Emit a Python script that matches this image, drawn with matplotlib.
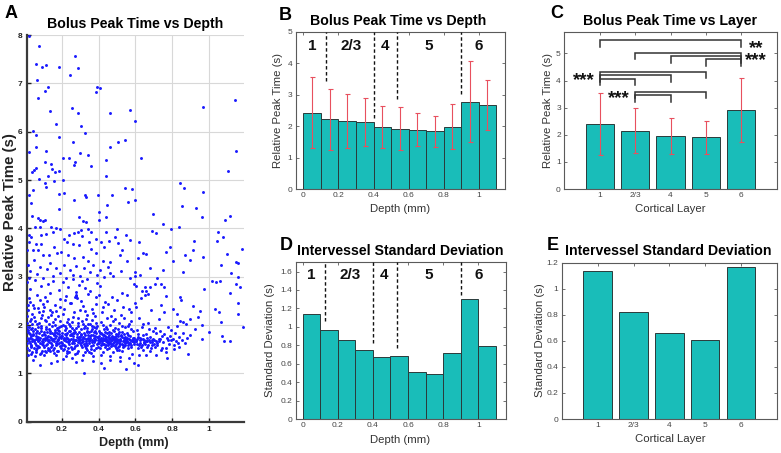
import numpy as np
import matplotlib
matplotlib.use('Agg')
import matplotlib.pyplot as plt

plt.rcParams['font.family'] = ['Liberation Sans', 'DejaVu Sans']

# ---------------- Panel A data (depth mm, relative peak time s) ----------------
pts_upper = [
(0.02,7.97),(0.078,7.77),(0.06,7.39),(0.093,7.34),(0.115,7.38),(0.184,7.34),(0.27,7.57),(0.245,7.17),(0.287,7.31),
(0.064,7.06),(0.127,6.92),(0.11,6.84),(0.073,6.70),(0.39,6.93),(0.41,6.90),(0.387,6.83),
(0.138,6.43),(0.256,6.48),(0.287,6.39),(0.46,6.39),(0.57,6.45),(0.596,6.22),(0.17,6.16),(0.305,6.12),(0.327,5.97),
(0.042,6.02),(0.06,5.93),(0.184,5.88),(0.264,5.79),(0.46,5.68),(0.505,5.79),(0.545,5.83),(0.02,5.57),(0.058,5.68),
(0.115,5.59),(0.30,5.55),(0.342,5.51),(0.205,5.46),(0.238,5.45),(0.63,5.46),(0.965,6.52),(1.142,6.66),(1.147,5.59),
(0.111,5.38),(0.142,5.34),(0.27,5.38),(0.269,5.31),(0.36,5.28),(0.44,5.41),
(0.039,5.17),(0.05,5.21),(0.062,5.24),(0.147,5.23),(0.165,5.16),(0.184,5.19),(0.078,5.02),(0.124,5.09),(0.16,4.97),
(0.205,5.01),(0.44,5.09),(0.111,4.93),(0.042,4.79),(0.115,4.85),(0.02,4.68),(0.185,4.72),(0.215,4.74),(0.327,4.69),
(0.333,4.64),(0.396,4.69),(0.475,4.70),(0.542,4.83),(0.584,4.81),(0.56,4.55),(0.596,4.59),(0.269,4.59),(0.447,4.48),
(0.033,4.52),(0.184,4.40),(0.842,4.94),(0.865,4.84),(0.965,4.76),(0.927,4.43),(0.853,4.46),(1.102,5.19),(1.115,4.26),
(0.96,4.23),(1.085,4.17),(0.696,4.29),(0.751,4.08),(0.838,4.03),(0.402,4.33),(0.44,4.24),(0.404,4.17),(0.296,4.24),
(0.315,4.15),(0.333,4.14),(0.04,4.26),(0.071,4.22),(0.084,4.17),(0.10,4.15),(0.11,4.17),(0.053,4.03),(0.08,4.02),
(0.142,4.03),(0.169,4.01)]

pts_mid = [
(1.05,3.93),(1.078,3.83),(0.793,3.99),(0.693,3.94),(0.711,3.91),(0.193,3.99),(0.242,3.86),(0.269,3.91),(0.287,3.93),
(0.305,3.97),(0.342,3.99),(0.36,3.93),(0.442,3.92),(0.50,3.99),(0.547,3.86),(0.569,3.76),(0.504,3.69),(0.456,3.74),
(0.411,3.72),(0.387,3.79),(0.351,3.72),(0.296,3.66),(0.26,3.67),(0.229,3.71),(0.151,3.92),(0.115,3.88),(0.087,3.86),
(0.02,3.86),(0.024,3.72),(0.06,3.67),(0.042,3.55),(0.07,3.55),(0.096,3.45),(0.133,3.45),(0.173,3.48),(0.196,3.52),
(0.233,3.45),(0.269,3.38),(0.315,3.41),(0.342,3.32),(0.387,3.48),(0.424,3.32),(0.46,3.31),(0.515,3.45),(0.555,3.32),
(0.615,3.38),(0.64,3.48),(0.66,3.46),(0.769,3.52),(0.787,3.62),(0.805,3.32),(0.869,3.45),(0.915,3.55),(0.918,3.74),
(0.969,3.41),(1.045,3.74),(1.10,3.46),(1.18,3.57),(1.144,3.31),(1.16,3.28),(1.067,3.24),(0.896,3.34),(0.751,3.14),
(0.86,3.09),(0.596,3.10),(0.46,3.07),(0.015,3.24),
(0.03,3.12),(0.05,3.35),(0.065,3.05),(0.08,3.21),(0.10,2.98),(0.12,3.15),(0.135,3.28),(0.155,3.02),(0.17,3.19),
(0.19,3.08),(0.21,3.25),(0.225,2.97),(0.245,3.13),(0.26,3.03),(0.28,3.22),(0.30,3.01),(0.32,3.17),(0.335,2.96),
(0.355,3.09),(0.37,3.24),(0.39,3.04),(0.41,3.14),(0.43,2.99),(0.45,3.21),(0.48,3.02),(0.52,3.12),(0.57,2.98),
(0.625,3.04),(0.68,3.18),(0.72,2.97),(0.012,3.55),(0.035,3.82),(0.09,3.68),(0.16,3.62),(0.21,3.78),(0.31,3.85),
(0.36,3.58),(0.43,3.61),(0.49,3.83),(0.53,3.56),(0.62,3.72),
(1.015,2.92),(1.04,2.88),(1.06,2.92),(1.12,3.07),(1.16,3.0)]

pts_sparse_low = [
(0.975,2.74),(1.03,2.33),(1.056,2.26),(1.115,2.66),(1.147,2.85),(1.16,2.23),(1.17,2.78),(1.155,2.45),
(1.184,1.95),(1.066,2.06),(1.0,1.85),(0.96,2.0),(0.964,1.71),(1.07,1.78),(1.082,1.66),(1.115,1.66),(0.938,2.16),
(0.924,1.92),(0.95,2.30),(0.896,2.12),(0.915,2.40),(0.86,2.06),(0.824,2.23),(0.805,2.33),(0.84,2.57),(0.85,2.52),
(0.769,2.61),(0.756,2.78),(0.742,2.85),(0.705,2.85),(0.66,2.71),(0.669,2.64),(0.651,2.78),(0.605,2.81),(0.596,3.02)]

pts_core = [
(0.012,1.62),(0.015,2.31),(0.018,1.85),(0.021,2.55),(0.013,2.05),(0.025,1.48),(0.028,1.74),(0.031,2.12),(0.034,1.58),
(0.037,1.93),(0.040,1.67),(0.043,2.41),(0.046,1.79),(0.049,1.52),(0.016,1.71),(0.022,1.95),(0.027,2.74),(0.033,1.41),
(0.038,2.23),(0.044,1.88),(0.014,2.88),(0.019,1.37),(0.026,1.63),(0.035,1.77),(0.041,2.02),(0.047,1.69),(0.012,2.18),
(0.024,2.97),(0.030,1.82),(0.036,1.55),(0.042,1.28),(0.048,2.35),(0.017,1.90),(0.029,2.48),(0.039,1.72),
(0.052,1.66),(0.055,2.08),(0.058,1.45),(0.061,1.83),(0.064,2.62),(0.067,1.74),(0.070,1.57),(0.073,1.96),(0.076,2.27),
(0.079,1.69),(0.082,1.41),(0.085,1.88),(0.088,2.15),(0.091,1.61),(0.094,1.79),(0.097,2.44),(0.053,1.92),(0.059,1.71),
(0.065,1.52),(0.071,2.36),(0.077,1.84),(0.083,1.63),(0.089,2.81),(0.095,1.47),(0.056,2.93),(0.062,1.58),(0.068,2.02),
(0.074,1.76),(0.080,1.18),(0.086,1.98),(0.092,2.21),(0.098,1.72),(0.057,1.36),(0.069,1.67),(0.081,2.52),
(0.102,1.81),(0.105,1.55),(0.108,2.11),(0.111,1.73),(0.114,1.44),(0.117,1.92),(0.120,2.49),(0.123,1.66),(0.126,1.78),
(0.129,2.03),(0.132,1.51),(0.135,1.87),(0.138,2.67),(0.141,1.62),(0.144,1.74),(0.147,2.26),(0.103,2.38),(0.109,1.68),
(0.115,1.59),(0.121,1.86),(0.127,2.85),(0.133,1.70),(0.139,1.46),(0.145,1.97),(0.106,1.39),(0.112,2.58),(0.118,1.76),
(0.124,2.17),(0.130,1.64),(0.136,1.83),(0.142,1.21),(0.148,1.58),(0.113,1.95),(0.125,1.49),(0.137,2.32),
(0.152,1.72),(0.155,2.06),(0.158,1.53),(0.161,1.85),(0.164,2.42),(0.167,1.63),(0.170,1.77),(0.173,1.94),(0.176,1.47),
(0.179,2.19),(0.182,1.68),(0.185,2.73),(0.188,1.81),(0.191,1.57),(0.194,1.99),(0.197,1.74),(0.153,2.91),(0.159,1.42),
(0.165,1.89),(0.171,2.28),(0.177,1.61),(0.183,1.75),(0.189,2.54),(0.195,1.52),(0.156,1.66),(0.162,2.12),(0.168,1.38),
(0.174,1.83),(0.180,1.71),(0.186,1.96),(0.192,2.37),(0.198,1.64),(0.160,1.79),(0.172,1.25),(0.184,1.88),
(0.202,1.77),(0.205,1.49),(0.208,2.01),(0.211,1.69),(0.214,2.34),(0.217,1.82),(0.220,1.56),(0.223,1.93),(0.226,2.61),
(0.229,1.73),(0.232,1.64),(0.235,2.13),(0.238,1.87),(0.241,1.45),(0.244,1.79),(0.247,2.46),(0.203,1.62),(0.209,2.22),
(0.215,1.71),(0.221,1.35),(0.227,1.84),(0.233,2.78),(0.239,1.67),(0.245,1.98),(0.206,2.88),(0.212,1.58),(0.218,1.90),
(0.224,1.74),(0.230,2.07),(0.236,1.52),(0.242,1.69),(0.248,1.81),(0.207,1.29),(0.219,2.52),(0.231,1.43),
(0.252,1.72),(0.255,1.94),(0.258,1.51),(0.261,2.17),(0.264,1.78),(0.267,1.63),(0.270,2.58),(0.273,1.86),(0.276,2.63),
(0.279,1.69),(0.282,2.55),(0.285,1.81),(0.288,1.47),(0.291,2.04),(0.294,1.75),(0.297,2.31),(0.253,2.45),(0.259,1.66),
(0.265,1.89),(0.271,1.41),(0.277,2.68),(0.283,1.59),(0.289,1.97),(0.295,1.70),(0.256,1.32),(0.262,1.83),(0.268,2.26),
(0.274,1.57),(0.280,2.60),(0.286,1.73),(0.292,2.83),(0.298,1.62),(0.263,2.95),(0.275,1.24),(0.287,2.14),
(0.302,1.68),(0.305,1.91),(0.308,1.54),(0.311,2.08),(0.314,1.76),(0.317,2.39),(0.320,1.61),(0.323,1.84),(0.326,1.45),
(0.329,1.97),(0.332,1.72),(0.335,2.21),(0.338,1.58),(0.341,1.80),(0.344,2.64),(0.347,1.66),(0.303,2.49),(0.309,1.71),
(0.315,1.38),(0.321,1.93),(0.327,2.76),(0.333,1.63),(0.339,1.85),(0.345,2.03),(0.306,1.79),(0.312,1.27),(0.318,1.67),
(0.324,2.29),(0.330,1.52),(0.336,1.88),(0.342,1.74),(0.348,1.44),(0.310,2.92),(0.322,1.00),(0.334,2.12),
(0.352,1.73),(0.355,2.02),(0.358,1.56),(0.361,1.87),(0.364,2.33),(0.367,1.64),(0.370,1.79),(0.373,1.95),(0.376,1.48),
(0.379,2.18),(0.382,1.70),(0.385,2.57),(0.388,1.83),(0.391,1.61),(0.394,1.99),(0.397,1.75),(0.353,2.71),(0.359,1.43),
(0.365,1.91),(0.371,2.24),(0.377,1.67),(0.383,1.78),(0.389,2.44),(0.395,1.55),(0.356,1.68),(0.362,2.11),(0.368,1.36),
(0.374,1.86),(0.380,1.72),(0.386,1.94),(0.392,2.86),(0.398,1.63),(0.360,1.80),(0.372,1.26),(0.384,2.05),
(0.402,1.71),(0.405,1.88),(0.408,1.53),(0.411,2.06),(0.414,1.74),(0.417,1.62),(0.420,2.27),(0.423,1.79),(0.426,1.45),
(0.429,1.92),(0.432,1.68),(0.435,2.48),(0.438,1.76),(0.441,1.58),(0.444,1.84),(0.447,2.15),(0.403,2.62),(0.409,1.66),
(0.415,1.39),(0.421,1.81),(0.427,2.37),(0.433,1.72),(0.439,1.95),(0.445,1.64),(0.406,1.83),(0.412,1.21),(0.418,1.70),
(0.424,2.01),(0.430,1.11),(0.436,1.77),(0.442,1.69),(0.448,1.51),(0.410,2.81),(0.422,1.60),(0.434,1.86),
(0.452,1.67),(0.455,1.85),(0.458,1.52),(0.461,2.01),(0.464,1.73),(0.467,1.60),(0.470,2.19),(0.473,1.78),(0.476,1.44),
(0.479,1.89),(0.482,1.65),(0.485,2.32),(0.488,1.74),(0.491,1.56),(0.494,1.82),(0.497,1.69),(0.453,2.44),(0.459,1.63),
(0.465,1.36),(0.471,1.76),(0.477,2.09),(0.483,1.71),(0.489,1.93),(0.495,1.61),(0.456,1.80),(0.462,1.27),(0.468,1.68),
(0.474,2.58),(0.480,1.58),(0.486,1.75),(0.492,2.12),(0.498,1.48),
(0.502,1.72),(0.505,1.91),(0.508,1.55),(0.511,2.04),(0.514,1.68),(0.517,1.61),(0.520,2.21),(0.523,1.77),(0.526,1.46),
(0.529,1.85),(0.532,1.66),(0.535,2.38),(0.538,1.73),(0.541,1.57),(0.544,1.96),(0.547,1.70),(0.503,2.52),(0.509,1.63),
(0.515,1.33),(0.521,1.79),(0.527,1.99),(0.533,1.59),(0.539,2.14),(0.545,1.64),(0.506,1.82),(0.518,1.26),(0.530,2.67),
(0.542,1.75),(0.512,1.49),(0.548,1.08),
(0.552,1.66),(0.556,1.84),(0.560,1.52),(0.564,2.02),(0.568,1.71),(0.572,1.63),(0.576,2.26),(0.580,1.69),(0.584,1.41),
(0.588,1.87),(0.592,1.65),(0.596,2.45),(0.554,1.74),(0.558,1.97),(0.562,1.58),(0.566,2.33),(0.570,1.78),(0.574,1.55),
(0.578,2.08),(0.582,1.67),(0.586,1.74),(0.590,2.84),(0.594,1.60),(0.598,1.70),(0.563,1.31),(0.579,1.92),(0.591,1.21),
(0.557,2.62),
(0.602,1.67),(0.607,1.89),(0.612,1.53),(0.617,1.76),(0.622,2.14),(0.627,1.62),(0.632,1.71),(0.637,1.95),(0.642,1.49),
(0.647,1.68),(0.604,2.37),(0.609,1.61),(0.614,1.82),(0.619,1.38),(0.624,1.73),(0.629,2.56),(0.634,1.58),(0.639,1.79),
(0.644,2.02),(0.649,1.64),(0.616,1.18),(0.636,2.71),
(0.652,1.61),(0.657,1.82),(0.662,1.55),(0.667,2.05),(0.672,1.70),(0.677,1.47),(0.682,1.76),(0.687,2.31),(0.692,1.64),
(0.697,1.88),(0.655,2.62),(0.665,1.66),(0.675,1.91),(0.685,1.52),(0.695,1.72),(0.660,1.39),(0.680,2.78),(0.690,1.58),
(0.702,1.69),(0.708,1.55),(0.714,1.83),(0.720,1.63),(0.726,2.12),(0.732,1.71),(0.738,1.49),(0.744,1.77),(0.705,1.94),
(0.717,1.58),(0.729,1.66),(0.741,2.41),(0.711,1.38),(0.735,1.87),(0.747,1.52),
(0.752,1.64),(0.758,1.81),(0.764,1.52),(0.770,1.73),(0.776,1.96),(0.782,1.60),(0.788,1.77),(0.794,1.68),(0.755,2.27),
(0.767,1.45),(0.779,1.69),(0.791,1.89),(0.773,1.32),
(0.803,1.72),(0.809,1.58),(0.815,1.84),(0.821,1.67),(0.827,1.98),(0.833,1.63),(0.839,1.76),(0.845,2.09),(0.812,1.51),
(0.836,1.55),
(0.853,1.69),(0.860,1.83),(0.867,1.62),(0.874,2.02),(0.881,1.74),(0.888,1.41),(0.895,1.79)]

pts_core_dense = [
(0.011,1.74),(0.014,1.52),(0.017,2.41),(0.020,1.66),(0.023,1.83),(0.026,2.08),(0.032,1.57),(0.036,1.91),(0.039,1.44),
(0.045,1.81),(0.050,2.17),(0.054,1.62),(0.060,1.77),(0.063,1.49),(0.066,1.88),(0.072,1.69),(0.075,2.04),(0.078,1.55),
(0.084,1.73),(0.087,1.43),(0.090,1.93),(0.093,1.67),(0.096,2.29),(0.099,1.59),(0.010,1.96),
(0.101,1.64),(0.104,1.86),(0.107,1.47),(0.110,1.79),(0.116,2.09),(0.119,1.61),(0.122,1.72),(0.128,1.53),(0.131,1.91),
(0.134,1.76),(0.140,2.21),(0.143,1.55),(0.146,1.84),(0.150,1.69),(0.154,1.49),(0.157,1.81),(0.163,1.73),(0.166,2.01),
(0.169,1.58),(0.175,1.67),(0.178,1.89),(0.181,1.46),(0.187,1.63),(0.190,2.09),(0.196,1.78),
(0.201,1.59),(0.204,1.84),(0.210,1.74),(0.213,1.51),(0.216,1.97),(0.222,1.66),(0.225,1.79),(0.228,1.47),(0.234,1.72),
(0.237,2.02),(0.240,1.61),(0.246,1.88),(0.249,1.54),(0.251,1.79),(0.254,1.63),(0.257,2.07),(0.260,1.71),(0.266,1.52),
(0.269,1.83),(0.272,1.68),(0.278,1.94),(0.281,1.76),(0.284,1.43),(0.290,1.65),(0.296,1.86),
(0.301,1.75),(0.304,1.58),(0.307,1.82),(0.313,1.64),(0.316,2.03),(0.319,1.73),(0.325,1.56),(0.328,1.79),(0.331,1.67),
(0.337,1.94),(0.340,1.49),(0.343,1.71),(0.346,1.85),(0.350,1.62),(0.354,1.78),(0.357,1.51),(0.363,1.69),(0.366,1.97),
(0.369,1.59),(0.375,1.74),(0.378,1.65),(0.381,1.87),(0.387,1.53),(0.390,1.76),(0.396,1.68),
(0.401,1.63),(0.404,1.77),(0.407,1.69),(0.413,1.58),(0.416,1.84),(0.419,1.66),(0.425,1.73),(0.428,1.61),(0.431,1.79),
(0.437,1.55),(0.440,1.71),(0.443,1.67),(0.446,1.92),(0.449,1.62),(0.451,1.75),(0.454,1.59),(0.457,1.72),(0.463,1.65),
(0.466,1.83),(0.469,1.57),(0.472,1.69),(0.478,1.74),(0.481,1.63),(0.484,1.88),(0.487,1.66),(0.490,1.71),(0.493,1.53),
(0.496,1.77),
(0.501,1.64),(0.504,1.78),(0.507,1.69),(0.510,1.57),(0.513,1.86),(0.516,1.66),(0.519,1.72),(0.525,1.61),(0.528,1.75),
(0.531,1.54),(0.537,1.68),(0.540,1.81),(0.543,1.63),(0.546,1.59),(0.551,1.71),(0.555,1.64),(0.559,1.79),(0.567,1.62),
(0.571,1.69),(0.577,1.58),(0.585,1.66),(0.593,1.73),
(0.606,1.66),(0.611,1.72),(0.621,1.59),(0.626,1.68),(0.631,1.55),(0.641,1.71),(0.646,1.62),(0.656,1.67),(0.664,1.74),
(0.671,1.59),(0.679,1.64),(0.689,1.69),(0.699,1.61),(0.712,1.66),(0.727,1.72)]

# ---------------- Panels B / D data (depth bins) ----------------
bin_depth = [0.05, 0.15, 0.25, 0.35, 0.45, 0.55, 0.65, 0.75, 0.85, 0.95, 1.05]
bin_mean = [2.43, 2.21, 2.17, 2.13, 1.97, 1.92, 1.89, 1.83, 1.98, 2.78, 2.66]
bin_std = [1.14, 0.97, 0.86, 0.75, 0.67, 0.68, 0.51, 0.49, 0.72, 1.30, 0.79]
layer_bounds = [0.13, 0.40, 0.535, 0.90]
bound_low_B = [3.43, 2.26, 2.85, 3.03]
bound_low_D = [1.06, 0.82, 0.77, 1.35]
layer_names = ['1', '2/3', '4', '5', '6']
layer_label_x = [0.05, 0.27, 0.465, 0.715, 1.0]

# ---------------- Panels C / E data (layers) ----------------
layer_mean = [2.41, 2.15, 1.95, 1.90, 2.91]
layer_std = [1.14, 0.82, 0.66, 0.61, 1.17]
# significance brackets: (from layer index, to layer index, height)
brackets = [(0, 4, 5.49), (1, 4, 5.02), (2, 4, 4.90), (3, 4, 4.78),
            (0, 3, 4.32), (0, 2, 4.20), (0, 1, 4.07), (1, 3, 3.58), (1, 2, 3.46)]
star_text = ['**\n***', '***', '***']
star_pos = [(5.42, 4.97), (0.56, 3.99), (1.53, 3.34)]

# ---------------- Figure ----------------
W, H = 781, 453
fig = plt.figure(figsize=(W / 100, H / 100), dpi=100)

def px_axes(l, t, r, b):
    return fig.add_axes([l / W, 1 - b / H, (r - l) / W, (b - t) / H])

def ftext(x, y, s, **kw):
    fig.text(x / W, 1 - y / H, s, **kw)

TEAL = '#19bdb9'
EDGE = '#2b3a3a'
ERR = '#e8505e'
SPINE = '#5a5a5a'
TICKC = '#454545'
LABC = '#333333'

# ---- Panel A ----
axA = px_axes(26.7, 35, 244, 421.7)
allpts = np.array(pts_upper + pts_mid + pts_sparse_low + pts_core + pts_core_dense)
axA.scatter(allpts[:, 0], allpts[:, 1], s=4.5, c='#1a1aff', linewidths=0, zorder=3)
axA.set_xlim(0.01, 1.19)
axA.set_ylim(0, 8)
axA.set_xticks([0.2, 0.4, 0.6, 0.8, 1.0])
axA.set_xticklabels(['0.2', '0.4', '0.6', '0.8', '1'])
axA.set_yticks(range(0, 9))
axA.set_yticklabels([str(v) for v in range(0, 9)])
axA.grid(True, color='#d8d8d8', lw=0.8)
axA.set_axisbelow(True)
for s in ['top', 'right']:
    axA.spines[s].set_visible(False)
for s in ['left', 'bottom']:
    axA.spines[s].set_color('#3a3a3a')
    axA.spines[s].set_linewidth(1.6)
axA.tick_params(axis='both', direction='in', length=3, width=1, labelsize=6, pad=3, colors='#222222')
for lab in axA.get_xticklabels() + axA.get_yticklabels():
    lab.set_fontweight('bold')
ftext(10.5, 212, 'Relative Peak Time (s)', rotation=90, ha='center', va='center', fontsize=10.8, fontweight='bold', color='#222222')
ftext(134, 443, 'Depth (mm)', ha='center', va='center', fontsize=9, fontweight='bold', color='#222222')
ftext(135, 24, 'Bolus Peak Time vs Depth', ha='center', va='center', fontsize=10.2, fontweight='bold')
ftext(11, 14, 'A', ha='center', va='center', fontsize=13, fontweight='bold')

def style_box(ax):
    for s in ax.spines.values():
        s.set_color(SPINE)
        s.set_linewidth(0.8)
    ax.tick_params(axis='both', direction='in', length=2.5, width=0.6, labelsize=6,
                   colors=SPINE, labelcolor=TICKC, pad=2.5, top=True, right=True)

# ---- Panel B ----
axB = px_axes(295.5, 31.7, 505, 189)
axB.bar(bin_depth, bin_mean, width=0.1, color=TEAL, edgecolor=EDGE, linewidth=0.7, zorder=2)
axB.errorbar(bin_depth, bin_mean, yerr=bin_std, fmt='none', ecolor=ERR, elinewidth=0.8,
             capsize=1.8, capthick=0.8, zorder=3)
axB.vlines(layer_bounds, bound_low_B, 5, colors='#111111', linestyles=(0, (2.5, 1.8)), lw=1.0, zorder=4)
for x, n in zip(layer_label_x, layer_names):
    axB.text(x, 4.53, n, ha='center', va='center', fontsize=11, fontweight='bold', color='#111111')
axB.set_xlim(-0.045, 1.15)
axB.set_ylim(0, 5)
axB.set_xticks([0, 0.2, 0.4, 0.6, 0.8, 1.0])
axB.set_xticklabels(['0', '0.2', '0.4', '0.6', '0.8', '1'])
axB.set_yticks(range(0, 6))
axB.set_yticklabels([str(v) for v in range(0, 6)])
style_box(axB)
ftext(278, 110, 'Relative Peak Time (s)', rotation=90, ha='center', va='center', fontsize=8.2, color=LABC)
ftext(400, 209.5, 'Depth (mm)', ha='center', va='center', fontsize=8.2, color=LABC)
ftext(398, 21.5, 'Bolus Peak Time vs Depth', ha='center', va='center', fontsize=10.2, fontweight='bold')
ftext(285, 15, 'B', ha='center', va='center', fontsize=13, fontweight='bold')

# ---- Panel C ----
axC = px_axes(564.3, 31.7, 776.7, 189)
pos = np.arange(1, len(layer_mean) + 1)
axC.bar(pos, layer_mean, width=0.8, color=TEAL, edgecolor=EDGE, linewidth=0.7, zorder=2)
axC.errorbar(pos, layer_mean, yerr=layer_std, fmt='none', ecolor=ERR, elinewidth=0.8,
             capsize=1.8, capthick=0.8, zorder=3)
for i, j, h in brackets:
    axC.plot([pos[i], pos[i], pos[j], pos[j]], [h - 0.24, h, h, h - 0.24], color='#333333', lw=1.1,
             solid_joinstyle='miter', zorder=4)
for t, (x, y) in zip(star_text, star_pos):
    axC.text(x, y, t, ha='center', va='center', multialignment='center', linespacing=0.6,
             fontsize=13.5, fontweight='bold', color='#111111')
axC.set_xlim(0, 6)
axC.set_ylim(0, 5.8)
axC.set_xticks(pos)
axC.set_xticklabels(layer_names)
axC.set_yticks(range(0, 6))
axC.set_yticklabels([str(v) for v in range(0, 6)])
style_box(axC)
ftext(548, 110, 'Relative Peak Time (s)', rotation=90, ha='center', va='center', fontsize=8.2, color=LABC)
ftext(670, 209.5, 'Cortical Layer', ha='center', va='center', fontsize=8.2, color=LABC)
ftext(670, 21.5, 'Bolus Peak Time vs Layer', ha='center', va='center', fontsize=10.2, fontweight='bold')
ftext(557, 14, 'C', ha='center', va='center', fontsize=13, fontweight='bold')

# ---- Panel D ----
axD = px_axes(295.5, 262.3, 505.7, 419)
axD.bar(bin_depth, bin_std, width=0.1, color=TEAL, edgecolor=EDGE, linewidth=0.7, zorder=2)
axD.vlines(layer_bounds, bound_low_D, 1.7, colors='#111111', linestyles=(0, (2.5, 1.8)), lw=1.0, zorder=4)
for x, n in zip(layer_label_x, layer_names):
    axD.text(x, 1.565, n, ha='center', va='center', fontsize=11, fontweight='bold', color='#111111')
axD.set_xlim(-0.04, 1.155)
axD.set_ylim(0, 1.7)
axD.set_xticks([0, 0.2, 0.4, 0.6, 0.8, 1.0])
axD.set_xticklabels(['0', '0.2', '0.4', '0.6', '0.8', '1'])
axD.set_yticks([0, 0.2, 0.4, 0.6, 0.8, 1.0, 1.2, 1.4, 1.6])
axD.set_yticklabels(['0', '0.2', '0.4', '0.6', '0.8', '1', '1.2', '1.4', '1.6'])
style_box(axD)
ftext(270, 340, 'Standard Deviation (s)', rotation=90, ha='center', va='center', fontsize=8.2, color=LABC)
ftext(400, 440, 'Depth (mm)', ha='center', va='center', fontsize=8.2, color=LABC)
ftext(400, 251.5, 'Intervessel Standard Deviation', ha='center', va='center', fontsize=10.2, fontweight='bold')
ftext(286, 245.5, 'D', ha='center', va='center', fontsize=13, fontweight='bold')

# ---- Panel E ----
axE = px_axes(562, 262.7, 776.7, 419)
axE.bar(pos, layer_std, width=0.8, color=TEAL, edgecolor=EDGE, linewidth=0.7, zorder=2)
axE.set_xlim(0, 6)
axE.set_ylim(0, 1.2)
axE.set_xticks(pos)
axE.set_xticklabels(layer_names)
axE.set_yticks([0, 0.2, 0.4, 0.6, 0.8, 1.0, 1.2])
axE.set_yticklabels(['0', '0.2', '0.4', '0.6', '0.8', '1', '1.2'])
style_box(axE)
ftext(540, 340, 'Standard Deviation (s)', rotation=90, ha='center', va='center', fontsize=8.2, color=LABC)
ftext(670, 438.5, 'Cortical Layer', ha='center', va='center', fontsize=8.2, color=LABC)
ftext(668, 251.5, 'Intervessel Standard Deviation', ha='center', va='center', fontsize=10.2, fontweight='bold')
ftext(553, 245.5, 'E', ha='center', va='center', fontsize=13, fontweight='bold')

fig.savefig('out.png', dpi=100)
